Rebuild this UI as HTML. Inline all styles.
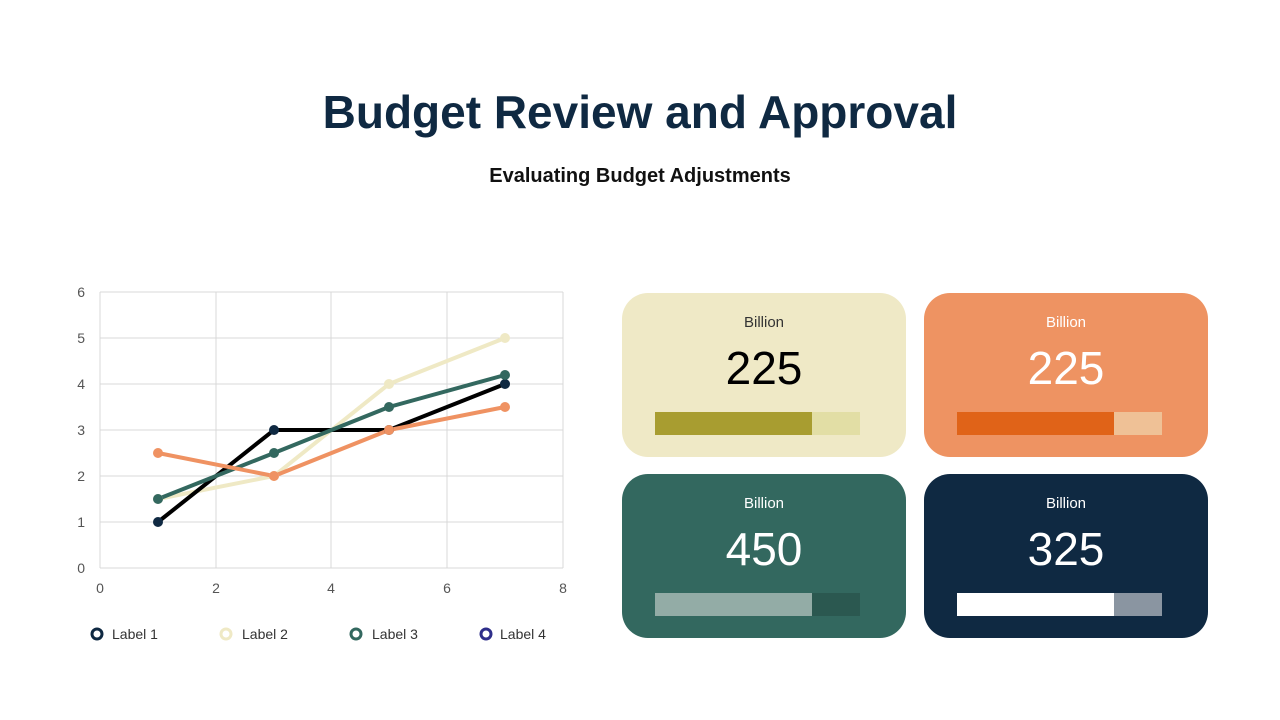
<!DOCTYPE html>
<html><head><meta charset="utf-8"><style>
body{margin:0;width:1280px;height:720px;background:#fff;font-family:"Liberation Sans",sans-serif;position:relative;overflow:hidden}
.t{position:absolute;left:0;width:1280px;text-align:center}
.card{position:absolute;width:284px;height:164px;border-radius:26px}
.card .l{position:absolute;top:21px;width:100%;text-align:center;font-size:15px}
.card .n{position:absolute;top:48px;width:100%;text-align:center;font-size:46px}
.card .b1,.card .b2{position:absolute;top:119px;height:23px}
.card .b1{left:33px;width:157px}.card .b2{left:190px;width:48px}
</style></head><body>
<div class="t" style="top:85px;font-size:46px;font-weight:bold;color:#0f2942">Budget Review and Approval</div>
<div class="t" style="top:165px;font-size:20px;font-weight:bold;color:#111">Evaluating Budget Adjustments</div>
<svg style="position:absolute;left:0;top:0" width="600" height="720" font-family="Liberation Sans" font-size="14" fill="#555">
<g stroke="#d9d9d9" stroke-width="1">
<line x1="100" y1="292" x2="563" y2="292"/><line x1="100" y1="338" x2="563" y2="338"/><line x1="100" y1="384" x2="563" y2="384"/><line x1="100" y1="430" x2="563" y2="430"/><line x1="100" y1="476" x2="563" y2="476"/><line x1="100" y1="522" x2="563" y2="522"/><line x1="100" y1="568" x2="563" y2="568"/>
<line x1="100" y1="292" x2="100" y2="568"/><line x1="216" y1="292" x2="216" y2="568"/><line x1="331" y1="292" x2="331" y2="568"/><line x1="447" y1="292" x2="447" y2="568"/><line x1="563" y1="292" x2="563" y2="568"/>
</g>
<g text-anchor="end"><text x="85" y="297">6</text><text x="85" y="343">5</text><text x="85" y="389">4</text><text x="85" y="435">3</text><text x="85" y="481">2</text><text x="85" y="527">1</text><text x="85" y="573">0</text></g>
<g text-anchor="middle"><text x="100" y="593">0</text><text x="216" y="593">2</text><text x="331" y="593">4</text><text x="447" y="593">6</text><text x="563" y="593">8</text></g>
<g fill="none" stroke-width="4">
<polyline stroke="#efe9c5" points="158,499 274,476 389,384 505,338"/>
<polyline stroke="#000" points="158,522 274,430 389,430 505,384"/>
<polyline stroke="#33685f" points="158,499 274,453 389,407 505,375"/>
<polyline stroke="#ef9262" points="158,453 274,476 389,430 505,407"/>
</g>
<g fill="#efe9c5"><circle cx="158" cy="499" r="5"/><circle cx="274" cy="476" r="5"/><circle cx="389" cy="384" r="5"/><circle cx="505" cy="338" r="5"/></g>
<g fill="#0f2942"><circle cx="158" cy="522" r="5"/><circle cx="274" cy="430" r="5"/><circle cx="389" cy="430" r="5"/><circle cx="505" cy="384" r="5"/></g>
<g fill="#33685f"><circle cx="158" cy="499" r="5"/><circle cx="274" cy="453" r="5"/><circle cx="389" cy="407" r="5"/><circle cx="505" cy="375" r="5"/></g>
<g fill="#ef9262"><circle cx="158" cy="453" r="5"/><circle cx="274" cy="476" r="5"/><circle cx="389" cy="430" r="5"/><circle cx="505" cy="407" r="5"/></g>
<g fill="none" stroke-width="3"><circle cx="97" cy="634" r="5" stroke="#0f2942"/><circle cx="226" cy="634" r="5" stroke="#efe9c5"/><circle cx="356" cy="634" r="5" stroke="#33685f"/><circle cx="486" cy="634" r="5" stroke="#2e2e8a"/></g>
<g fill="#333"><text x="112" y="639">Label 1</text><text x="242" y="639">Label 2</text><text x="372" y="639">Label 3</text><text x="500" y="639">Label 4</text></g>
</svg>
<div class="card" style="left:622px;top:293px;background:#efe9c6;color:#000"><div class="l" style="color:#333">Billion</div><div class="n">225</div><div class="b1" style="background:#a89d30"></div><div class="b2" style="background:#e2dea5"></div></div>
<div class="card" style="left:924px;top:293px;background:#ee9362;color:#fff"><div class="l">Billion</div><div class="n">225</div><div class="b1" style="background:#e06318"></div><div class="b2" style="background:#efc196"></div></div>
<div class="card" style="left:622px;top:474px;background:#33685f;color:#fff"><div class="l">Billion</div><div class="n">450</div><div class="b1" style="background:#93aca6"></div><div class="b2" style="background:#2b5850"></div></div>
<div class="card" style="left:924px;top:474px;background:#0f2942;color:#fff"><div class="l">Billion</div><div class="n">325</div><div class="b1" style="background:#fff"></div><div class="b2" style="background:#8a95a1"></div></div>
</body></html>
